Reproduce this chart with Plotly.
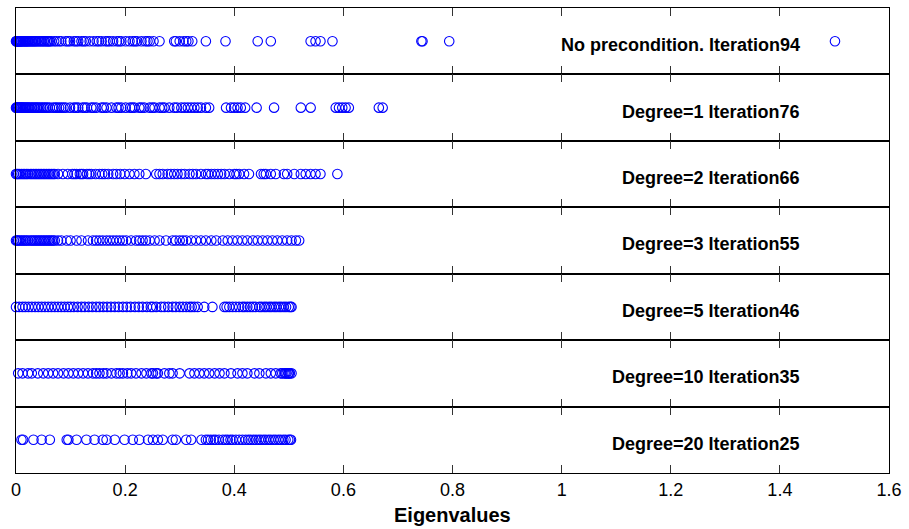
import plotly.graph_objects as go
from plotly.subplots import make_subplots

labels = [
    "No precondition. Iteration94",
    "Degree=1 Iteration76",
    "Degree=2 Iteration66",
    "Degree=3 Iteration55",
    "Degree=5 Iteration46",
    "Degree=10 Iteration35",
    "Degree=20 Iteration25",
]

eig_none = [0.0, 0.0005, 0.001, 0.0015, 0.002, 0.003, 0.004, 0.005, 0.006, 0.007, 0.008,
            0.009, 0.010, 0.012, 0.013, 0.015, 0.016, 0.018, 0.019, 0.021, 0.022, 0.024,
            0.026, 0.028, 0.030, 0.032, 0.034, 0.036, 0.038, 0.041, 0.043, 0.046, 0.048,
            0.051, 0.053, 0.056, 0.058, 0.060, 0.062,
            0.065, 0.070, 0.074, 0.079, 0.083, 0.091, 0.095, 0.099, 0.106, 0.110, 0.114,
            0.120, 0.124, 0.128, 0.135, 0.142, 0.148, 0.152, 0.157, 0.164, 0.168, 0.172,
            0.178, 0.185, 0.189, 0.193, 0.201, 0.208, 0.214, 0.218, 0.222, 0.230, 0.237,
            0.241, 0.245, 0.252, 0.263,
            0.290, 0.293, 0.300, 0.307, 0.312, 0.316, 0.323, 0.348, 0.384, 0.443, 0.467,
            0.540, 0.549, 0.558, 0.580, 0.743, 0.745, 0.794, 1.501]

eig_d1 = [0.0, 0.001, 0.002, 0.003, 0.004, 0.006, 0.007, 0.009, 0.010, 0.012, 0.013, 0.015,
          0.017, 0.019, 0.021, 0.023, 0.025, 0.028, 0.030, 0.033, 0.035, 0.038, 0.040,
          0.043, 0.046, 0.049, 0.052, 0.055, 0.058, 0.062,
          0.068, 0.072, 0.075, 0.079, 0.083, 0.087, 0.091, 0.099, 0.106, 0.110, 0.114,
          0.122, 0.126, 0.130, 0.138, 0.142, 0.147, 0.157, 0.161, 0.166, 0.175, 0.184,
          0.188, 0.193, 0.201, 0.209, 0.213, 0.217, 0.226, 0.230, 0.235, 0.245, 0.250,
          0.254, 0.263, 0.268, 0.272, 0.281, 0.290,
          0.295, 0.303, 0.309, 0.315, 0.321, 0.327, 0.333, 0.339, 0.348, 0.354, 0.385, 0.394,
          0.400, 0.406, 0.412, 0.420, 0.441, 0.473, 0.522, 0.540, 0.586, 0.592, 0.598, 0.604,
          0.610, 0.665, 0.672]

eig_d2 = [0.0, 0.002, 0.004, 0.007, 0.010, 0.013, 0.016, 0.019, 0.022, 0.026, 0.029, 0.032,
          0.035, 0.038, 0.041, 0.044, 0.047, 0.050, 0.053, 0.056, 0.059, 0.062, 0.065,
          0.068, 0.071, 0.077, 0.086, 0.095, 0.103, 0.107, 0.111, 0.117, 0.120, 0.123,
          0.130, 0.134, 0.138, 0.146, 0.153, 0.158, 0.163, 0.169, 0.178, 0.184, 0.191,
          0.199, 0.208, 0.217, 0.226, 0.238, 0.257, 0.263, 0.269, 0.278,
          0.284, 0.290, 0.296, 0.303, 0.309, 0.318, 0.324, 0.330, 0.339, 0.348, 0.352,
          0.358, 0.364, 0.370, 0.376, 0.382, 0.391, 0.400, 0.404, 0.409, 0.418, 0.427,
          0.449, 0.454, 0.458, 0.467, 0.476, 0.491, 0.497, 0.510, 0.522, 0.531, 0.540,
          0.549, 0.558, 0.589]

eig_d3 = [0.0, 0.002, 0.004, 0.007, 0.010, 0.013, 0.016, 0.019, 0.022, 0.026, 0.029, 0.032,
          0.035, 0.038, 0.041, 0.044, 0.047, 0.050, 0.053, 0.056, 0.059, 0.062, 0.065,
          0.068, 0.071, 0.077, 0.083, 0.093, 0.100, 0.111, 0.120, 0.132, 0.141, 0.147,
          0.153, 0.159, 0.166, 0.172, 0.178, 0.184, 0.190, 0.196, 0.202, 0.211, 0.220,
          0.226, 0.232, 0.238, 0.245, 0.254, 0.263, 0.275, 0.287, 0.293,
          0.300, 0.306, 0.312, 0.321, 0.330, 0.339, 0.348, 0.358, 0.367, 0.379, 0.388,
          0.397, 0.406, 0.415, 0.424, 0.434, 0.443, 0.452, 0.461, 0.470, 0.479, 0.488,
          0.497, 0.505, 0.513, 0.519]

eig_d5 = [0.0, 0.006, 0.012, 0.017, 0.023, 0.029, 0.035, 0.041, 0.047, 0.053, 0.059, 0.065,
          0.071, 0.077, 0.083, 0.089, 0.095, 0.100, 0.106, 0.113, 0.120, 0.126, 0.133, 0.140,
          0.147, 0.153, 0.160, 0.167, 0.174, 0.181, 0.188, 0.196, 0.203, 0.210, 0.218, 0.225,
          0.232, 0.240, 0.247,
          0.251, 0.257, 0.266, 0.272, 0.279, 0.287, 0.293, 0.300, 0.306, 0.312, 0.318, 0.322,
          0.327, 0.333, 0.345, 0.360, 0.382, 0.386, 0.391, 0.397, 0.403, 0.409, 0.415, 0.419,
          0.424, 0.429, 0.434, 0.439, 0.446, 0.450, 0.455, 0.459, 0.464, 0.468, 0.473, 0.477,
          0.482, 0.486, 0.491, 0.495, 0.500, 0.503, 0.505]

eig_d10 = [0.004, 0.012, 0.022, 0.029, 0.040, 0.050, 0.059, 0.068, 0.077, 0.087, 0.096, 0.105,
           0.114, 0.123, 0.132, 0.141, 0.147, 0.153, 0.160, 0.166, 0.175, 0.184, 0.190, 0.196,
           0.204, 0.211, 0.220, 0.230, 0.239, 0.248, 0.257,
           0.251, 0.260, 0.272, 0.281, 0.287, 0.300, 0.318, 0.327, 0.336, 0.345, 0.354, 0.364,
           0.373, 0.382, 0.394, 0.406, 0.415, 0.424, 0.437, 0.446, 0.458, 0.467, 0.476, 0.485,
           0.488, 0.492, 0.494, 0.496, 0.499, 0.500, 0.502, 0.505]

eig_d20 = [0.010, 0.013, 0.032, 0.047, 0.062, 0.093, 0.096, 0.111, 0.129, 0.144, 0.159, 0.166,
           0.181, 0.199, 0.214, 0.226, 0.242, 0.251, 0.260, 0.269, 0.287, 0.293, 0.312, 0.321,
           0.340, 0.348, 0.352, 0.357, 0.362, 0.366, 0.372, 0.379, 0.384, 0.388, 0.393, 0.397,
           0.403, 0.409, 0.415, 0.421, 0.426, 0.430, 0.435, 0.440, 0.445, 0.449, 0.454, 0.458,
           0.463, 0.467, 0.472, 0.476, 0.481, 0.485, 0.490, 0.494, 0.499, 0.502, 0.504]

series = [eig_none, eig_d1, eig_d2, eig_d3, eig_d5, eig_d10, eig_d20]

x_ticks = [0, 0.2, 0.4, 0.6, 0.8, 1.0, 1.2, 1.4, 1.6]
x_tick_text = ["0", "0.2", "0.4", "0.6", "0.8", "1", "1.2", "1.4", "1.6"]
x_title = "Eigenvalues"

FONT = "Liberation Sans, Arial, Helvetica, sans-serif"

fig = make_subplots(rows=7, cols=1, shared_xaxes=True, vertical_spacing=0)

for i, (vals, lab) in enumerate(zip(series, labels)):
    r = i + 1
    fig.add_trace(go.Scatter(
        x=vals, y=[0] * len(vals), mode="markers",
        marker=dict(symbol="circle-open", size=9.5, color="#0000ff",
                    line=dict(width=1.1, color="#0000ff")),
        showlegend=False, hoverinfo="x", cliponaxis=False,
    ), row=r, col=1)
    xref = "x" if r == 1 else f"x{r}"
    yref = "y" if r == 1 else f"y{r}"
    fig.add_annotation(x=1.44, y=0, xref=xref, yref=yref, text=f"<b>{lab}</b>",
                       showarrow=False, xanchor="right", yanchor="middle", yshift=-4,
                       font=dict(family=FONT, size=18, color="black"))

# x-axis title placed below the tick labels
fig.add_annotation(x=0.5, y=0, xref="paper", yref="paper", text=f"<b>{x_title}</b>",
                   showarrow=False, xanchor="center", yanchor="middle", yshift=-42,
                   font=dict(family=FONT, size=20, color="black"))

fig.update_xaxes(range=[0, 1.6], tickvals=x_ticks, ticktext=x_tick_text,
                 ticks="inside", ticklen=8, tickwidth=1, tickcolor="#333",
                 showline=True, linecolor="black", linewidth=1, mirror="ticks",
                 showgrid=False, zeroline=False,
                 tickfont=dict(family=FONT, size=18, color="black"))
fig.update_yaxes(range=[-1, 1], showticklabels=False, ticks="",
                 showline=True, linecolor="black", linewidth=1, mirror=True,
                 showgrid=False, zeroline=False)

fig.update_layout(width=909, height=529, margin=dict(l=16, r=17, t=7, b=56),
                  plot_bgcolor="white", paper_bgcolor="white",
                  font=dict(family=FONT))

fig.write_html("out.html")
